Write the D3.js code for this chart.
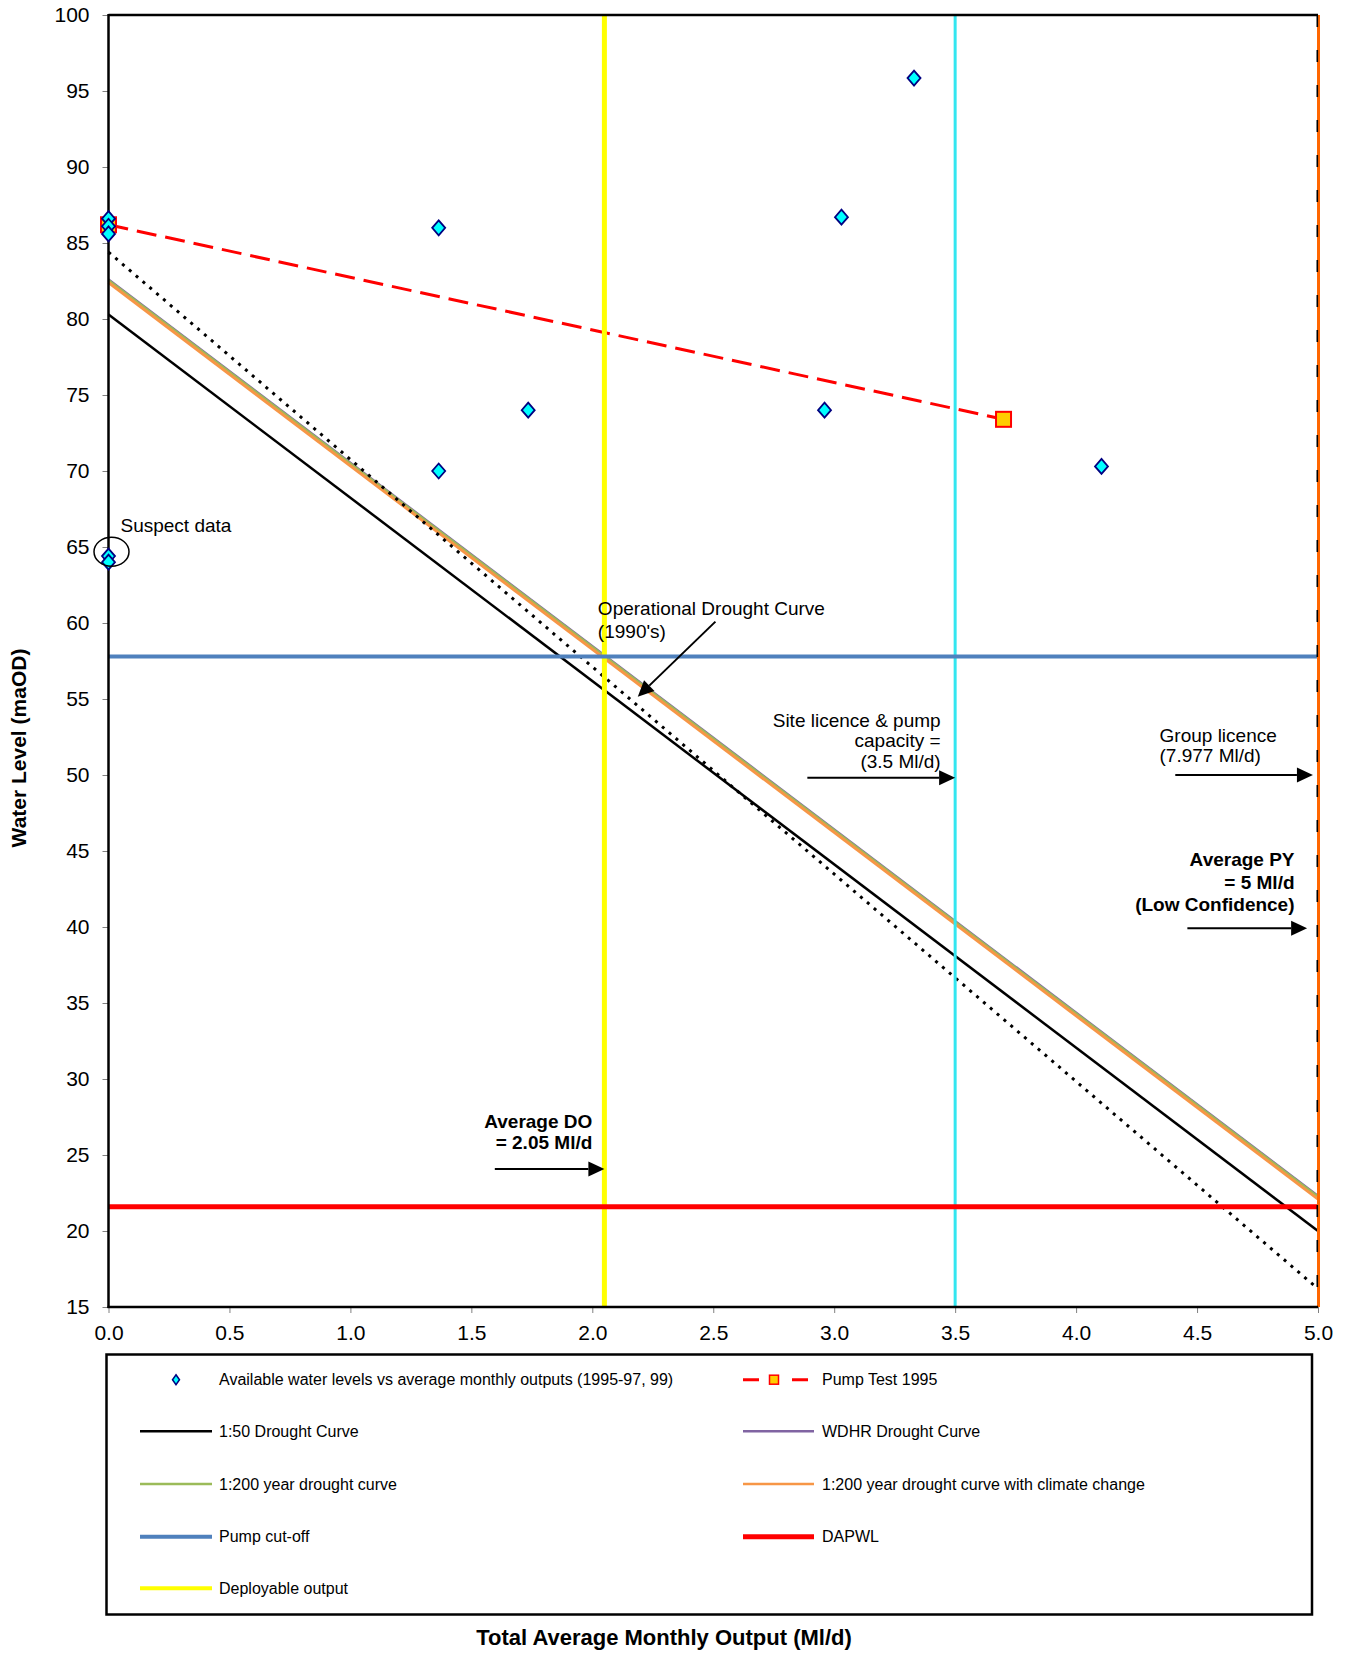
<!DOCTYPE html>
<html>
<head>
<meta charset="utf-8">
<script src="https://cdn.jsdelivr.net/npm/d3@7"></script>
<style>
  body { margin: 0; background: #fff; }
  text { font-family: Arial, "Liberation Sans", sans-serif; fill: #000; }
</style>
</head>
<body>
<svg id="chart" width="1348" height="1653"></svg>
<script>
// ---- Data -------------------------------------------------------------
const xTickValues = [0, 0.5, 1, 1.5, 2, 2.5, 3, 3.5, 4, 4.5, 5];
const yTickValues = [15, 20, 25, 30, 35, 40, 45, 50, 55, 60, 65, 70, 75, 80, 85, 90, 95, 100];

// Available water levels vs average monthly outputs (1995-97, 99)
const obsOutput = [0, 0, 0, 0, 0, 1.365, 1.365, 1.735, 2.96, 3.03, 3.33, 4.105];
const obsLevel  = [86.6, 86.1, 85.6, 64.4, 64.0, 86.0, 70.0, 74.0, 74.0, 86.7, 95.85, 70.3];

// Pump Test 1995
const pumpTestOutput = [0, 3.7];
const pumpTestLevel  = [86.2, 73.4];

// Drought curves (straight lines from zero output to 5 Ml/d)
const curveOutput       = [0, 5];
const curve50           = [80.3, 20.0];   // 1:50 Drought Curve
const curveOperational  = [84.4, 16.2];   // Operational Drought Curve (1990's)
const curveWDHR         = [82.6, 22.3];   // WDHR Drought Curve
const curve200          = [82.55, 22.25]; // 1:200 year drought curve
const curve200cc        = [82.4, 22.1];   // 1:200 year drought curve with climate change

// Reference levels and outputs
const pumpCutOffLevel   = 57.8;
const dapwlLevel        = 21.6;
const deployableOutput  = 2.05;
const siteLicenceOutput = 3.5;
const averagePYOutput   = 5;

// ---- Layout -----------------------------------------------------------
const svg = d3.select("#chart");
svg.append("rect").attr("width", 1348).attr("height", 1653).attr("fill", "#fff");

const plot = { left: 108.5, right: 1318, top: 15, bottom: 1307 };
const x = d3.scaleLinear().domain([0, 5]).range([plot.left, plot.right]);
const y = d3.scaleLinear().domain([15, 100]).range([plot.bottom, plot.top]);

const g = svg.append("g");
const line = d3.line().x(d => x(d[0])).y(d => y(d[1]));
const pairs = (xs, ys) => xs.map((v, i) => [v, ys[i]]);

// Diamond marker, slightly taller than wide
const diamondPath = (hw, hh) => `M0,${-hh}L${hw},0L0,${hh}L${-hw},0Z`;

// ---- Drought curves ---------------------------------------------------
g.append("path").datum(pairs(curveOutput, curveWDHR)).attr("d", line)
  .attr("fill", "none").attr("stroke", "#8064A2").attr("stroke-width", 2.5);
g.append("path").datum(pairs(curveOutput, curve200)).attr("d", line)
  .attr("fill", "none").attr("stroke", "#9BBB59").attr("stroke-width", 2.5);
g.append("path").datum(pairs(curveOutput, curve200cc)).attr("d", line)
  .attr("fill", "none").attr("stroke", "#F79646").attr("stroke-width", 3);
g.append("path").datum(pairs(curveOutput, curve50)).attr("d", line)
  .attr("fill", "none").attr("stroke", "#000").attr("stroke-width", 2.5);
g.append("path").datum(pairs(curveOutput, curveOperational)).attr("d", line)
  .attr("fill", "none").attr("stroke", "#000").attr("stroke-width", 3)
  .attr("stroke-dasharray", "3,6");

// ---- Pump test line ---------------------------------------------------
g.append("path").datum(pairs(pumpTestOutput, pumpTestLevel)).attr("d", line)
  .attr("fill", "none").attr("stroke", "#FF0000").attr("stroke-width", 3)
  .attr("stroke-dasharray", "20,9");

// ---- Vertical output lines --------------------------------------------
g.append("line")
  .attr("x1", x(deployableOutput)).attr("x2", x(deployableOutput))
  .attr("y1", y(100)).attr("y2", y(15))
  .attr("stroke", "#FFFF00").attr("stroke-width", 5);
g.append("line")
  .attr("x1", x(siteLicenceOutput)).attr("x2", x(siteLicenceOutput))
  .attr("y1", y(100)).attr("y2", y(15))
  .attr("stroke", "#33E6F0").attr("stroke-width", 3);

// ---- Horizontal level lines -------------------------------------------
g.append("line")
  .attr("x1", x(0)).attr("x2", x(5))
  .attr("y1", y(pumpCutOffLevel)).attr("y2", y(pumpCutOffLevel))
  .attr("stroke", "#4F81BD").attr("stroke-width", 4);
g.append("line")
  .attr("x1", x(0)).attr("x2", x(5))
  .attr("y1", y(dapwlLevel)).attr("y2", y(dapwlLevel))
  .attr("stroke", "#FF0000").attr("stroke-width", 5);

// ---- Frame ------------------------------------------------------------
g.append("line").attr("x1", x(0)).attr("x2", x(5)).attr("y1", y(100)).attr("y2", y(100))
  .attr("stroke", "#000").attr("stroke-width", 2.5);
g.append("line")
  .attr("x1", x(averagePYOutput) + 0.5).attr("x2", x(averagePYOutput) + 0.5)
  .attr("y1", y(100)).attr("y2", y(15))
  .attr("stroke", "#FF6600").attr("stroke-width", 3);
g.append("line")
  .attr("x1", x(averagePYOutput) - 0.7).attr("x2", x(averagePYOutput) - 0.7)
  .attr("y1", y(100)).attr("y2", y(15))
  .attr("stroke", "#000").attr("stroke-width", 1.6)
  .attr("stroke-dasharray", "12,23");

// ---- Axes -------------------------------------------------------------
const yAxis = d3.axisLeft(y).tickValues(yTickValues).tickSize(6).tickPadding(13)
  .tickFormat(d3.format("d"));
const yg = svg.append("g").attr("transform", `translate(${plot.left},0)`).call(yAxis);
yg.select(".domain").remove();
yg.selectAll(".tick line").attr("stroke", "#808080");
yg.selectAll(".tick text").attr("font-size", 21).attr("fill", "#000");

const xAxis = d3.axisBottom(x).tickValues(xTickValues).tickSize(6).tickPadding(12)
  .tickFormat(d3.format(".1f"));
const xg = svg.append("g").attr("transform", `translate(0,${plot.bottom})`).call(xAxis);
xg.select(".domain").remove();
xg.selectAll(".tick line").attr("stroke", "#808080");
xg.selectAll(".tick text").attr("font-size", 21).attr("fill", "#000");

svg.append("line").attr("x1", plot.left).attr("x2", plot.left)
  .attr("y1", plot.top - 1).attr("y2", plot.bottom + 1)
  .attr("stroke", "#000").attr("stroke-width", 2.5);
svg.append("line").attr("x1", plot.left - 1).attr("x2", plot.right)
  .attr("y1", plot.bottom).attr("y2", plot.bottom)
  .attr("stroke", "#000").attr("stroke-width", 2.5);

// Axis titles
svg.append("text")
  .attr("transform", `translate(26,${(plot.top + plot.bottom) / 2 + 87}) rotate(-90)`)
  .attr("text-anchor", "middle").attr("font-size", 21).attr("font-weight", "bold")
  .text("Water Level (maOD)");
svg.append("text")
  .attr("x", 664).attr("y", 1645)
  .attr("text-anchor", "middle").attr("font-size", 22).attr("font-weight", "bold")
  .text("Total Average Monthly Output (Ml/d)");

// ---- Markers ----------------------------------------------------------
const sqSize = 15;
svg.append("g").selectAll("rect")
  .data(pairs(pumpTestOutput, pumpTestLevel)).join("rect")
  .attr("x", d => x(d[0]) - sqSize / 2).attr("y", d => y(d[1]) - sqSize / 2)
  .attr("width", sqSize).attr("height", sqSize)
  .attr("fill", "#FFCC00").attr("stroke", "#FF0000").attr("stroke-width", 2);

svg.append("g").selectAll("path")
  .data(pairs(obsOutput, obsLevel)).join("path")
  .attr("transform", d => `translate(${x(d[0])},${y(d[1])})`)
  .attr("d", diamondPath(6.5, 7.5))
  .attr("fill", "#00FFFF").attr("stroke", "#000080").attr("stroke-width", 1.8);

// ---- Annotations ------------------------------------------------------
const ann = svg.append("g");
function arrow(x1, y1, x2, y2) {
  const ang = Math.atan2(y2 - y1, x2 - x1);
  const len = 16, half = 7.5;
  const bx = x2 - len * Math.cos(ang), by = y2 - len * Math.sin(ang);
  ann.append("line").attr("x1", x1).attr("y1", y1).attr("x2", bx).attr("y2", by)
    .attr("stroke", "#000").attr("stroke-width", 2);
  const px = -Math.sin(ang) * half, py = Math.cos(ang) * half;
  ann.append("path")
    .attr("d", `M${x2},${y2}L${bx + px},${by + py}L${bx - px},${by - py}Z`)
    .attr("fill", "#000");
}
function label(lines, ax, ay, anchor, bold, lineH) {
  const t = ann.append("text").attr("font-size", 19).attr("text-anchor", anchor)
    .attr("font-weight", bold ? "bold" : "normal");
  lines.forEach((s, i) => t.append("tspan").attr("x", ax).attr("y", ay + i * lineH).text(s));
}

// Suspect data
ann.append("ellipse").attr("cx", x(0) + 3).attr("cy", y(64.69))
  .attr("rx", 17.5).attr("ry", 14.5)
  .attr("fill", "none").attr("stroke", "#000").attr("stroke-width", 1.5);
label(["Suspect data"], x(0) + 12, y(64.69) - 20, "start", false, 0);

// Operational Drought Curve
label(["Operational Drought Curve", "(1990's)"], x(2.023), y(60.53), "start", false, 23);
arrow(x(2.509), y(60.09), x(2.188), y(55.15));

// Site licence & pump capacity
label(["Site licence & pump", "capacity =", "(3.5 Ml/d)"], x(3.44), y(53.18), "end", false, 20.5);
arrow(x(2.889), y(49.82), x(siteLicenceOutput), y(49.82));

// Group licence
label(["Group licence", "(7.977 Ml/d)"], x(4.345), y(52.19), "start", false, 20);
arrow(x(4.41), y(50.0), x(4.979), y(50.0));

// Average PY
label(["Average PY", "= 5 Ml/d", "(Low Confidence)"], x(4.903), y(44.0), "end", true, 22.5);
arrow(x(4.46), y(39.92), x(4.955), y(39.92));

// Average DO
label(["Average DO", "= 2.05 Ml/d"], x(2.0), y(26.8), "end", true, 21.7);
arrow(x(1.597), y(24.08), x(deployableOutput), y(24.08));

// ---- Legend -----------------------------------------------------------
const leg = svg.append("g");
leg.append("rect").attr("x", 106.5).attr("y", 1354.5).attr("width", 1205.5).attr("height", 260)
  .attr("fill", "#fff").attr("stroke", "#000").attr("stroke-width", 2.5);

const rowsY = [1379.7, 1431.3, 1484, 1536.7, 1588.3];
const col1 = { x1: 140, x2: 212, tx: 219 };
const col2 = { x1: 743, x2: 814, tx: 822 };
const legendItems = [
  { col: col1, row: 0, label: "Available water levels vs average monthly outputs (1995-97, 99)", kind: "diamond" },
  { col: col2, row: 0, label: "Pump Test 1995", kind: "pump" },
  { col: col1, row: 1, label: "1:50 Drought Curve", kind: "line", color: "#000", w: 2.5 },
  { col: col2, row: 1, label: "WDHR Drought Curve", kind: "line", color: "#8064A2", w: 2.5 },
  { col: col1, row: 2, label: "1:200 year drought curve", kind: "line", color: "#9BBB59", w: 2.5 },
  { col: col2, row: 2, label: "1:200 year drought curve with climate change", kind: "line", color: "#F79646", w: 2.5 },
  { col: col1, row: 3, label: "Pump cut-off", kind: "line", color: "#4F81BD", w: 4 },
  { col: col2, row: 3, label: "DAPWL", kind: "line", color: "#FF0000", w: 5 },
  { col: col1, row: 4, label: "Deployable output", kind: "line", color: "#FFFF00", w: 4 }
];
legendItems.forEach(it => {
  const cy = rowsY[it.row];
  const c = it.col;
  if (it.kind === "line") {
    leg.append("line").attr("x1", c.x1).attr("x2", c.x2).attr("y1", cy).attr("y2", cy)
      .attr("stroke", it.color).attr("stroke-width", it.w);
  } else if (it.kind === "diamond") {
    leg.append("path")
      .attr("transform", `translate(${(c.x1 + c.x2) / 2},${cy})`)
      .attr("d", diamondPath(3.5, 5))
      .attr("fill", "#00FFFF").attr("stroke", "#000080").attr("stroke-width", 1.5);
  } else if (it.kind === "pump") {
    leg.append("line").attr("x1", c.x1).attr("x2", c.x2).attr("y1", cy).attr("y2", cy)
      .attr("stroke", "#FF0000").attr("stroke-width", 3).attr("stroke-dasharray", "16,7,0,26,16");
    leg.append("rect").attr("x", c.x1 + 31 - 4.5).attr("y", cy - 4.5).attr("width", 9).attr("height", 9)
      .attr("fill", "#FFCC00").attr("stroke", "#FF0000").attr("stroke-width", 1.5);
  }
  leg.append("text").attr("x", c.tx).attr("y", cy).attr("dy", "0.35em")
    .attr("font-size", 16).text(it.label);
});
</script>
</body>
</html>
